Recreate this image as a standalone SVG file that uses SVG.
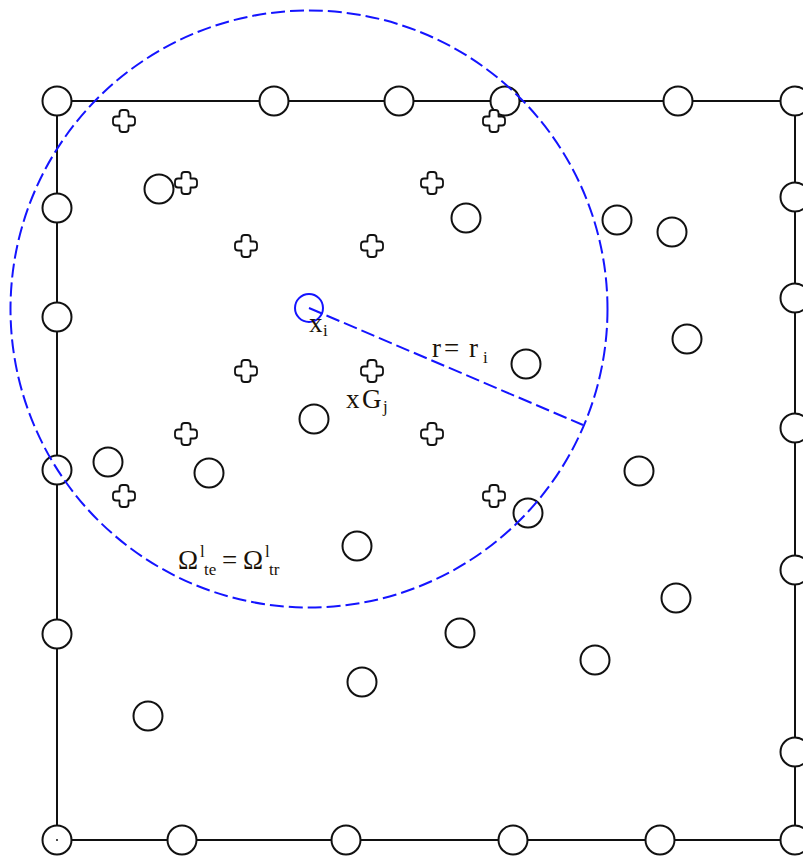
<svg xmlns="http://www.w3.org/2000/svg" width="803" height="856" viewBox="0 0 803 856">
<style>
.frame{fill:none;stroke:#111;stroke-width:2}
.pt{fill:#fff;stroke:#111;stroke-width:2}
.gp{fill:#fff;stroke:#111;stroke-width:1.8;stroke-linejoin:round}
.blue{fill:none;stroke:#1414ff;stroke-width:2}
.dash{stroke-dasharray:14 5}
text{font-family:"Liberation Serif","Times New Roman",serif;fill:#1a1208}
.m{font-size:27px}
.s{font-size:17px}
</style>
<defs>
<path id="g" class="gp" d="M -4.5,-4.5 L -4.5,-8 Q -4.5,-11 -1.5,-11 L 1.5,-11 Q 4.5,-11 4.5,-8 L 4.5,-4.5 L 8,-4.5 Q 11,-4.5 11,-1.5 L 11,1.5 Q 11,4.5 8,4.5 L 4.5,4.5 L 4.5,8 Q 4.5,11 1.5,11 L -1.5,11 Q -4.5,11 -4.5,8 L -4.5,4.5 L -8,4.5 Q -11,4.5 -11,1.5 L -11,-1.5 Q -11,-4.5 -8,-4.5 Z"/>
<circle id="n" r="14.5" class="pt"/>
</defs>
<rect id="domain" class="frame" x="57" y="101" width="738" height="739"/>
<g id="boundary-nodes">
<use href="#n" x="57" y="101"/><use href="#n" x="274" y="101"/><use href="#n" x="399" y="101"/><use href="#n" x="505" y="101"/><use href="#n" x="678" y="101"/><use href="#n" x="795" y="101"/>
<use href="#n" x="57" y="208"/><use href="#n" x="57" y="317"/><use href="#n" x="57" y="470"/><use href="#n" x="57" y="634"/><use href="#n" x="57" y="840"/>
<use href="#n" x="795" y="197"/><use href="#n" x="795" y="298"/><use href="#n" x="795" y="428"/><use href="#n" x="795" y="570"/><use href="#n" x="795" y="752"/><use href="#n" x="795" y="840"/>
<use href="#n" x="182" y="840"/><use href="#n" x="346" y="840"/><use href="#n" x="513" y="840"/><use href="#n" x="660" y="840"/>
<circle cx="57" cy="840" r="1" fill="#111"/>
</g>
<g id="interior-nodes">
<use href="#n" x="159" y="189"/><use href="#n" x="466" y="218"/><use href="#n" x="617" y="220"/><use href="#n" x="672" y="232"/><use href="#n" x="687" y="339"/><use href="#n" x="526" y="364"/><use href="#n" x="314" y="419"/><use href="#n" x="108" y="462"/><use href="#n" x="209" y="473"/><use href="#n" x="639" y="471"/><use href="#n" x="528" y="513"/><use href="#n" x="357" y="546"/><use href="#n" x="676" y="598"/><use href="#n" x="460" y="633"/><use href="#n" x="595" y="660"/><use href="#n" x="362" y="682"/><use href="#n" x="148" y="716"/>
</g>
<g id="gauss-points">
<use href="#g" x="124" y="121"/><use href="#g" x="186" y="183"/><use href="#g" x="246" y="246"/><use href="#g" x="372" y="246"/><use href="#g" x="432" y="183"/><use href="#g" x="494" y="121"/>
<use href="#g" x="246" y="371"/><use href="#g" x="372" y="371"/><use href="#g" x="186" y="434"/><use href="#g" x="432" y="434"/><use href="#g" x="124" y="496"/><use href="#g" x="494" y="496"/>
</g>
<g id="support-domain">
<circle class="blue dash" cx="309" cy="309" r="298.5"/>
<line class="blue dash" x1="309" y1="308" x2="583" y2="425"/>
<circle id="xi" class="blue" cx="309" cy="308" r="14"/>
</g>
<g id="labels">
<text class="m" x="309" y="332">x<tspan class="s" x="323" y="336">i</tspan></text>
<text class="m" x="432" y="357">r<tspan x="444">=</tspan><tspan x="469">r</tspan><tspan class="s" x="483" y="363">i</tspan></text>
<text class="m" x="346" y="408">x<tspan x="362">G</tspan><tspan class="s" x="383" y="412">j</tspan></text>
<text class="m" x="178" y="569">Ω<tspan class="s" x="200" y="557">l</tspan><tspan class="s" x="204" y="575">te</tspan><tspan x="222" y="569">=</tspan><tspan x="243">Ω</tspan><tspan class="s" x="265" y="557">l</tspan><tspan class="s" x="269" y="575">tr</tspan></text>
</g>
</svg>
